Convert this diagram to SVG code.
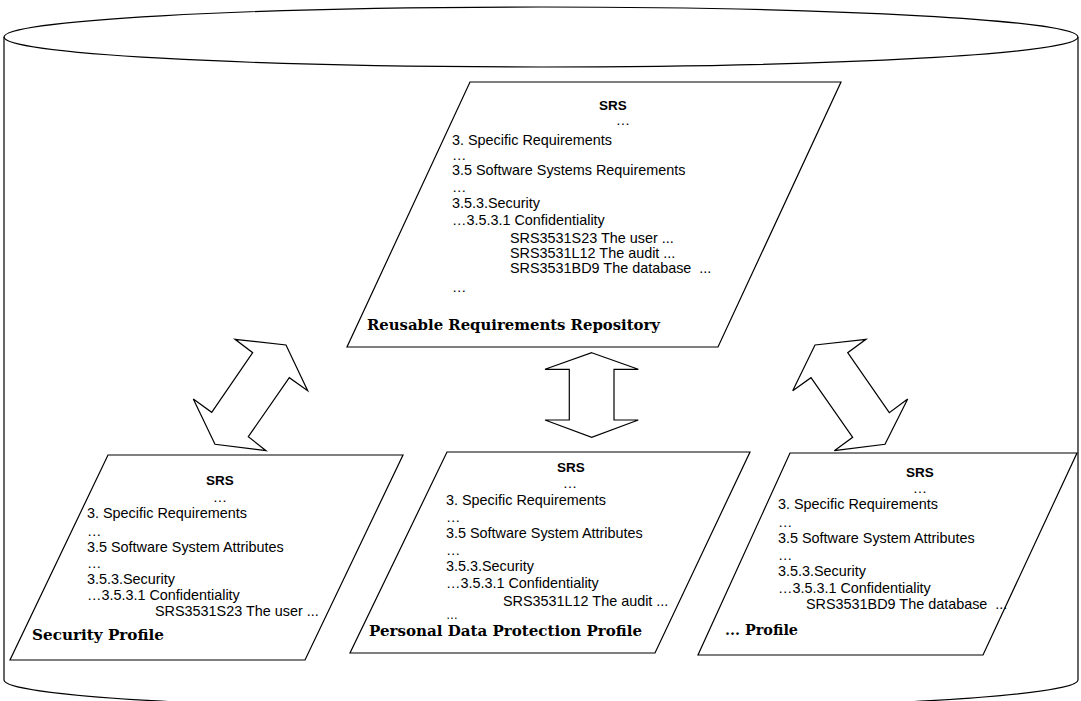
<svg xmlns="http://www.w3.org/2000/svg" width="1081" height="701" viewBox="0 0 1081 701">
<style>
.shape{fill:#fff;stroke:#000;stroke-width:1.2}
.cyl{fill:none;stroke:#000;stroke-width:1.2}
.t{font-family:"Liberation Sans",Arial,sans-serif;font-size:14.4px;fill:#000}
.h{font-family:"Liberation Sans",Arial,sans-serif;font-size:13.5px;font-weight:bold;fill:#000;text-anchor:middle}
.c{text-anchor:middle}
.lbl{font-family:"DejaVu Serif","Liberation Serif",serif;font-size:14px;font-weight:bold;fill:#000}
</style>
<rect width="1081" height="701" fill="#fff"/>
<g id="cylinder">
<path class="cyl" d="M4,37 L4,680 A537,30 0 0 0 1078,680 L1078,37"/>
<ellipse class="cyl" cx="541" cy="37" rx="537" ry="30"/>
</g>
<g id="connectors">
<polygon class="shape" points="235,339.3 286,345 307.7,390.7 289.3,377.7 248.3,436.7 266,450.7 215,444.3 193.3,399 211.7,412.3 252.7,352.7"/>
<polygon class="shape" points="591.7,352.7 638.3,369.3 614,369.3 614,420 638.3,420 591.7,437.3 545,420 569.3,420 569.3,369.3 545,369.3"/>
<polygon class="shape" points="815,345 866,339.3 847.7,352.7 889.3,412.7 907.7,399 885,444.3 834.3,450.7 852.7,437.3 811,377.7 792.7,390.7"/>
</g>
<g id="repository">
<polygon class="shape" points="470,82 841,82 718,347 347,347"/>
<text class="h" x="613" y="110">SRS</text>
<text class="t c" x="623" y="125">…</text>
<text class="t" x="452" y="145">3. Specific Requirements</text>
<text class="t" x="452" y="160">…</text>
<text class="t" x="452" y="175">3.5 Software Systems Requirements</text>
<text class="t" x="452" y="192">…</text>
<text class="t" x="452" y="208">3.5.3.Security</text>
<text class="t" x="452" y="225">…3.5.3.1 Confidentiality</text>
<text class="t" x="510" y="243">SRS3531S23 The user ...</text>
<text class="t" x="510" y="258">SRS3531L12 The audit ...</text>
<text class="t" x="510" y="273" xml:space="preserve">SRS3531BD9 The database  ...</text>
<text class="t" x="452" y="292">…</text>
<text class="lbl" x="367" y="330" textLength="293" lengthAdjust="spacingAndGlyphs">Reusable Requirements Repository</text>
</g>
<g id="security-profile">
<polygon class="shape" points="108,455 403,455 305,660 10,660"/>
<text class="h" x="220" y="485">SRS</text>
<text class="t c" x="220" y="502">…</text>
<text class="t" x="87" y="518">3. Specific Requirements</text>
<text class="t" x="87" y="536">…</text>
<text class="t" x="87" y="552">3.5 Software System Attributes</text>
<text class="t" x="87" y="568">…</text>
<text class="t" x="87" y="584">3.5.3.Security</text>
<text class="t" x="87" y="600">…3.5.3.1 Confidentiality</text>
<text class="t" x="155" y="616">SRS3531S23 The user ...</text>
<text class="lbl" x="32" y="640" textLength="132" lengthAdjust="spacingAndGlyphs">Security Profile</text>
</g>
<g id="personal-data-profile">
<polygon class="shape" points="447,452 750,452 655,653 350,653"/>
<text class="h" x="571" y="472">SRS</text>
<text class="t c" x="570" y="488">…</text>
<text class="t" x="446" y="505">3. Specific Requirements</text>
<text class="t" x="446" y="522">…</text>
<text class="t" x="446" y="538">3.5 Software System Attributes</text>
<text class="t" x="446" y="555">…</text>
<text class="t" x="446" y="571">3.5.3.Security</text>
<text class="t" x="446" y="588">…3.5.3.1 Confidentiality</text>
<text class="t" x="503" y="606">SRS3531L12 The audit ...</text>
<text class="t" x="446" y="619" style="font-size:12px">…</text>
<text class="lbl" x="369" y="636" textLength="273" lengthAdjust="spacingAndGlyphs">Personal Data Protection Profile</text>
</g>
<g id="other-profile">
<polygon class="shape" points="790,453 1077,453 983,655 698,655"/>
<text class="h" x="920" y="477">SRS</text>
<text class="t c" x="920" y="493">…</text>
<text class="t" x="778" y="509">3. Specific Requirements</text>
<text class="t" x="778" y="527">…</text>
<text class="t" x="778" y="543">3.5 Software System Attributes</text>
<text class="t" x="778" y="560">…</text>
<text class="t" x="778" y="576">3.5.3.Security</text>
<text class="t" x="778" y="593">…3.5.3.1 Confidentiality</text>
<text class="t" x="806" y="609" xml:space="preserve">SRS3531BD9 The database  ...</text>
<text class="lbl" x="725" y="635" textLength="73" lengthAdjust="spacingAndGlyphs">... Profile</text>
</g>
</svg>
